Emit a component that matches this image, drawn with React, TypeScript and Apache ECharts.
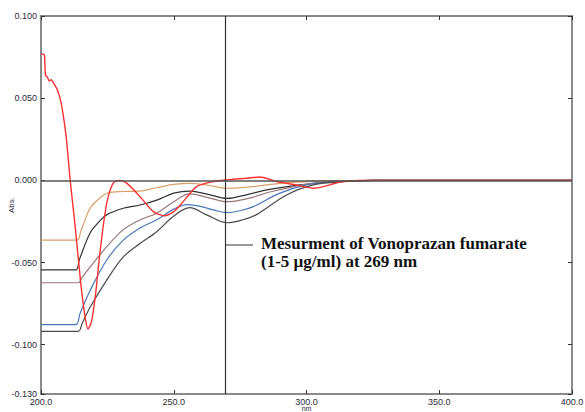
import React, { useEffect, useRef } from "react";
import * as echarts from "echarts";

const xTicks = [200, 250, 300, 350, 400];
const yTicks = [-0.13, -0.1, -0.05, 0, 0.05, 0.1];
const markerWavelength = 269.5;

const wlRed = [200, 200.8, 201.3, 201.7, 202.4, 203.1, 203.8, 205, 206.3, 207.6, 208.8, 209.6, 211, 213, 215, 216.5, 217.7, 219, 220.5, 222, 223.5, 225, 227.2, 229.7, 232.3, 237.3, 242.3, 246.5, 250, 253, 258.6, 265, 270, 277.5, 282.5, 288.8, 296.3, 302.6, 306, 312.6, 320, 400];
const absRed = [0.0768, 0.0768, 0.0762, 0.064, 0.0628, 0.0605, 0.0612, 0.0585, 0.0545, 0.047, 0.035, 0.0248, 0.0, -0.03, -0.063, -0.082, -0.0905, -0.086, -0.07, -0.047, -0.027, -0.012, -0.0017, 0.0, -0.0017, -0.0099, -0.019, -0.0215, -0.019, -0.014, -0.0038, -0.0007, 0.0003, 0.0013, 0.002, -0.0007, -0.0028, -0.0048, -0.004, -0.001, 0, 0];

const wlOrange = [200, 213.5, 215, 218.5, 222, 225, 231, 237, 243.5, 250, 256, 263, 270, 280, 290, 300, 310, 330, 400];
const absOrange = [-0.0364, -0.0364, -0.031, -0.017, -0.011, -0.0078, -0.0068, -0.0066, -0.0045, -0.0025, -0.0018, -0.003, -0.0048, -0.0038, -0.0018, -0.0008, -0.0002, 0, 0];

const wlBlack1 = [200, 213, 214.5, 218.5, 222, 224.7, 231, 237.3, 243.6, 250, 256, 263, 270, 278, 285, 297.5, 309, 325, 400];
const absBlack1 = [-0.0545, -0.0545, -0.048, -0.032, -0.025, -0.021, -0.017, -0.015, -0.012, -0.0078, -0.0065, -0.0085, -0.011, -0.0085, -0.0058, -0.0028, -0.001, 0, 0];

const wlBrown = [200, 214, 215.5, 218.5, 224.7, 231, 237.3, 243.6, 250, 256, 263, 270, 278, 287, 302.5, 315, 330, 400];
const absBrown = [-0.0623, -0.0623, -0.059, -0.0527, -0.0405, -0.03, -0.024, -0.02, -0.013, -0.0082, -0.0105, -0.013, -0.011, -0.0068, -0.0017, -0.0003, 0, 0];

const wlBlue = [200, 213, 214.7, 218.5, 224.7, 231, 237.3, 243.6, 250, 255, 260, 265, 270, 275, 280, 290, 300, 309, 325, 400];
const absBlue = [-0.0878, -0.0878, -0.081, -0.067, -0.0486, -0.0364, -0.029, -0.024, -0.0175, -0.0148, -0.0158, -0.018, -0.0197, -0.0185, -0.016, -0.0078, -0.0028, -0.001, 0, 0];

const wlBlack2 = [200, 214, 215.5, 218.5, 224.7, 231, 237.3, 243.6, 249.8, 256, 262.4, 270, 276, 281, 292.5, 302.5, 312, 325, 400];
const absBlack2 = [-0.0919, -0.0919, -0.087, -0.0772, -0.0609, -0.0466, -0.0384, -0.0313, -0.022, -0.0166, -0.021, -0.0258, -0.024, -0.021, -0.0089, -0.0028, -0.001, 0, 0];

const zip = (xs: number[], ys: number[]) => xs.map((x, i) => [x, ys[i]]);

export default function App() {
  const ref = useRef<HTMLDivElement>(null);
  useEffect(() => {
    if (!ref.current) return;
    const chart = echarts.init(ref.current, null, { renderer: "svg" });
    const labelStyle = { fontFamily: "Liberation Sans", fontSize: 9, color: "#2a2a3a" };
    const line = (name: string, data: number[][], color: string, width = 1.2, extra: any = {}) => ({
      type: "line",
      name,
      data,
      showSymbol: false,
      smooth: 0.35,
      lineStyle: { color, width },
      itemStyle: { color },
      z: 3,
      ...extra,
    });
    const frameLine = { show: true, onZero: false, lineStyle: { color: "#8a8a8a", width: 2 } };
    const tick = { show: true, inside: true, length: 4, lineStyle: { color: "#333", width: 1 } };
    chart.setOption({
      animation: false,
      backgroundColor: "#fff",
      grid: { left: 41, right: 13, top: 16, bottom: 18, containLabel: false, outerBoundsMode: "none" },
      xAxis: [
        {
          type: "value",
          min: 200,
          max: 400,
          interval: 50,
          name: "nm",
          nameLocation: "middle",
          nameGap: 11,
          nameMoveOverlap: false,
          nameTextStyle: { ...labelStyle, fontSize: 7, lineHeight: 7, verticalAlign: "top" },
          axisLine: frameLine,
          axisTick: tick,
          axisLabel: { ...labelStyle, margin: 3, formatter: (v: number) => v.toFixed(1) },
          splitLine: { show: false },
        },
        {
          type: "value",
          position: "top",
          min: 200,
          max: 400,
          interval: 50,
          axisLine: frameLine,
          axisTick: tick,
          axisLabel: { show: false },
          splitLine: { show: false },
        },
      ],
      yAxis: [
        {
          type: "value",
          min: -0.13,
          max: 0.1,
          name: "Abs.",
          nameLocation: "middle",
          nameGap: 26,
          nameMoveOverlap: false,
          nameTextStyle: { ...labelStyle, fontSize: 8 },
          axisLine: frameLine,
          axisTick: { ...tick, customValues: yTicks },
          axisLabel: { ...labelStyle, margin: 4, customValues: yTicks, formatter: (v: number) => v.toFixed(3) },
          splitLine: { show: false },
        },
        {
          type: "value",
          position: "right",
          min: -0.13,
          max: 0.1,
          axisLine: frameLine,
          axisTick: { ...tick, customValues: yTicks },
          axisLabel: { show: false, customValues: yTicks },
          splitLine: { show: false },
        },
      ],
      series: [
        line("orange", zip(wlOrange, absOrange), "#d9a068", 1.2, {
          markLine: {
            silent: true,
            symbol: "none",
            label: { show: false },
            data: [
              { xAxis: markerWavelength, lineStyle: { color: "#333", type: "solid", width: 1.2 } },
              { yAxis: 0, lineStyle: { color: "#555", type: "solid", width: 1.5 } },
            ],
          },
        }),
        line("black1", zip(wlBlack1, absBlack1), "#333333"),
        line("brown", zip(wlBrown, absBrown), "#9a7676"),
        line("blue", zip(wlBlue, absBlue), "#4a78b8"),
        line("black2", zip(wlBlack2, absBlack2), "#4a4a4a"),
        line("red", zip(wlRed, absRed), "#ff3030", 1.4, { smooth: 0.25, z: 4 }),
      ],
      graphic: [
        { type: "line", shape: { x1: 226, y1: 245, x2: 253, y2: 245 }, style: { stroke: "#333", lineWidth: 1 } },
        {
          type: "text",
          left: 261,
          top: 234,
          style: {
            text: "Mesurment of Vonoprazan fumarate\n(1-5 µg/ml) at 269 nm",
            fontFamily: "Liberation Serif",
            fontWeight: "bold",
            fontSize: 17,
            fill: "#111",
            lineHeight: 18,
          },
        },
      ],
    });
    return () => chart.dispose();
  }, []);
  return <div ref={ref} style={{ width: 585, height: 412, position: "absolute", left: 0, top: 0 }} />;
}
